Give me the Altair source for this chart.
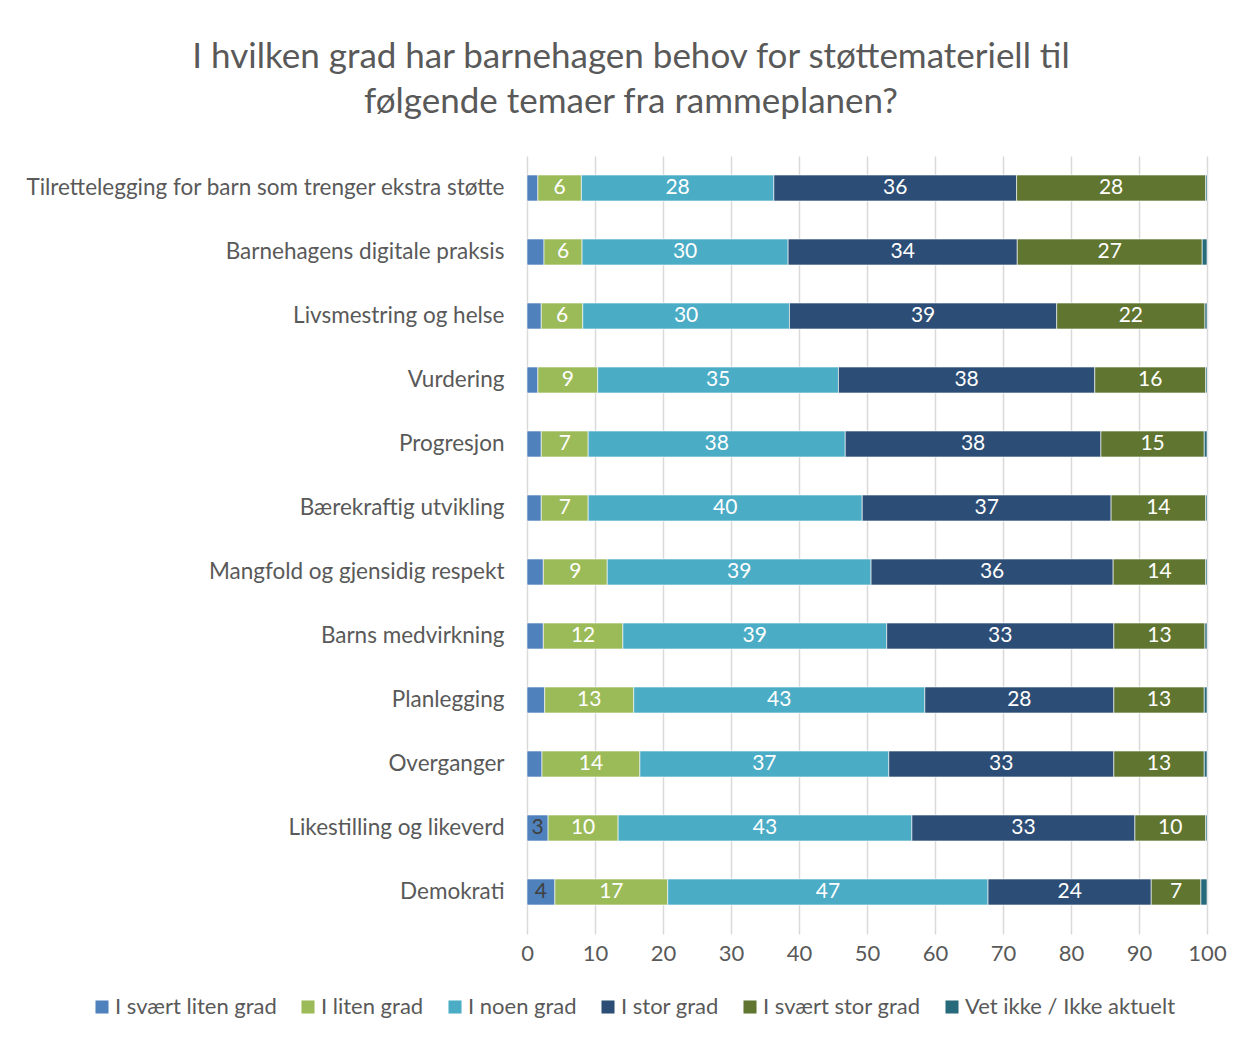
import altair as alt
import pandas as pd

categories = [
    "Tilrettelegging for barn som trenger ekstra støtte",
    "Barnehagens digitale praksis",
    "Livsmestring og helse",
    "Vurdering",
    "Progresjon",
    "Bærekraftig utvikling",
    "Mangfold og gjensidig respekt",
    "Barns medvirkning",
    "Planlegging",
    "Overganger",
    "Likestilling og likeverd",
    "Demokrati",
]

series = [
    "I svært liten grad",
    "I liten grad",
    "I noen grad",
    "I stor grad",
    "I svært stor grad",
    "Vet ikke / Ikke aktuelt",
]

svaert_liten = [1.6, 2.5, 2.1, 1.6, 2.1, 2.1, 2.4, 2.4, 2.6, 2.2, 3.1, 4.1]
liten = [6.4, 5.6, 6.1, 8.8, 6.9, 6.9, 9.4, 11.7, 13.1, 14.4, 10.3, 16.6]
noen = [28.3, 30.3, 30.4, 35.4, 37.8, 40.3, 38.8, 38.8, 42.8, 36.6, 43.2, 47.1]
stor = [35.7, 33.7, 39.3, 37.7, 37.6, 36.6, 35.6, 33.4, 27.8, 33.1, 32.8, 24.0]
svaert_stor = [27.8, 27.2, 21.8, 16.3, 15.2, 13.9, 13.6, 13.4, 13.3, 13.3, 10.4, 7.3]
vet_ikke = [0.2, 0.7, 0.3, 0.2, 0.4, 0.2, 0.2, 0.3, 0.4, 0.4, 0.2, 0.9]

colors = ["#4F81BD", "#9BBB59", "#4BACC6", "#2C4D75", "#5F7530", "#276A7C"]
tick_values = list(range(0, 101, 10))

all_series = [svaert_liten, liten, noen, stor, svaert_stor, vet_ikke]
rows = []
for si, (name, vals) in enumerate(zip(series, all_series)):
    for ci, cat in enumerate(categories):
        rows.append({"cat": cat, "series": name, "order": si, "value": vals[ci]})
df = pd.DataFrame(rows)

FONT = "Lato"
GREY = "#595959"

base = alt.Chart(df).transform_stack(
    stack="value", as_=["x0", "x1"], groupby=["cat"], sort=[alt.SortField("order")]
).transform_calculate(mid="(datum.x0 + datum.x1) / 2")

y_enc = alt.Y(
    "cat:N",
    sort=categories,
    scale=alt.Scale(paddingInner=0.594, paddingOuter=0.297),
    axis=alt.Axis(
        title=None, ticks=False, domain=False, labelFontSize=22.5, labelColor=GREY,
        labelFont=FONT, labelPadding=23, labelLimit=600,
    ),
)

bars = base.mark_bar(stroke="white", strokeWidth=0.6).encode(
    x=alt.X(
        "x0:Q",
        scale=alt.Scale(domain=[0, 100], nice=False),
        axis=alt.Axis(
            title=None, values=tick_values, grid=True, gridColor="#D9D9D9", gridWidth=1.5,
            domain=False, tickColor="#D9D9D9", tickSize=10, tickWidth=1.5,
            labelFontSize=22, labelColor=GREY, labelFont=FONT, labelPadding=9,
            labelFlush=False, labelOverlap=False,
        ),
    ),
    x2="x1:Q",
    y=y_enc,
    color=alt.Color(
        "series:N",
        scale=alt.Scale(domain=series, range=colors),
        legend=alt.Legend(
            title=None, orient="none", legendX=-436, legendY=840, direction="horizontal",
            symbolType="square", symbolSize=170, symbolStrokeWidth=0, labelFontSize=22,
            labelColor=GREY, labelFont=FONT, columnPadding=20, labelLimit=0, symbolOffset=0,
            labelOffset=2,
        ),
    ),
)

labels = base.transform_filter("datum.value >= 2.95").transform_calculate(
    lab="format(datum.value, '.0f')"
).mark_text(fontSize=21, font=FONT, baseline="middle", align="center").encode(
    x=alt.X("mid:Q"),
    y=alt.Y("cat:N", sort=categories),
    text="lab:N",
    color=alt.condition("datum.order == 0", alt.value("#404040"), alt.value("white")),
)

chart = alt.layer(bars, labels).properties(
    width=680,
    height=768,
    title=alt.TitleParams(
        text=["I hvilken grad har barnehagen behov for støttemateriell til",
              "følgende temaer fra rammeplanen?"],
        fontSize=35, font=FONT, color=GREY, fontWeight="normal", anchor="middle",
        dx=-236, offset=36, lineHeight=45,
    ),
    autosize=alt.AutoSizeParams(type="none"),
    padding={"left": 519, "top": 148, "right": 26, "bottom": 100},
).configure_view(stroke=None)

chart.save("out.html", embed_options={"renderer": "svg", "actions": False})
